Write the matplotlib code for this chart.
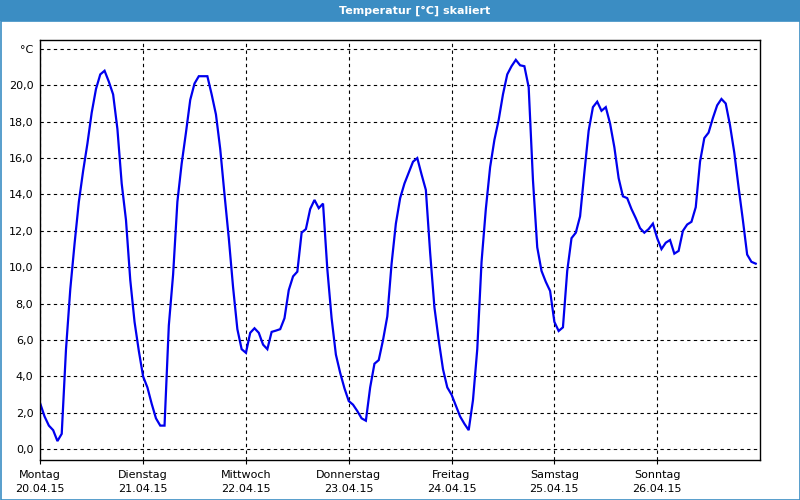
# Temperatur [°C] skaliert - week chart
import matplotlib
matplotlib.use('Agg')
import matplotlib.pyplot as plt
import matplotlib.patches as patches
import numpy as np

# hourly readings, Montag 00:00 .. Sonntag 23:00
temps = [
    2.5, 1.8, 1.3, 1.05, 0.45, 0.85, 5.5, 8.8, 11.3, 13.6, 15.3, 16.8,
    18.5, 19.8, 20.6, 20.8, 20.2, 19.5, 17.6, 14.6, 12.6, 9.3, 7.0, 5.4,
    4.0, 3.4, 2.5, 1.7, 1.3, 1.3, 6.8, 9.6, 13.6, 15.7, 17.4, 19.2,
    20.1, 20.5, 20.5, 20.5, 19.5, 18.4, 16.5, 14.0, 11.6, 8.9, 6.6, 5.5,
    5.3, 6.4, 6.65, 6.4, 5.75, 5.5, 6.45, 6.52, 6.6, 7.2, 8.75, 9.5,
    9.76, 11.9, 12.1, 13.2, 13.7, 13.25, 13.5, 9.9, 7.2, 5.2, 4.2, 3.35,
    2.65, 2.45, 2.1, 1.7, 1.57, 3.4, 4.7, 4.9, 6.0, 7.3, 10.2, 12.4,
    13.8, 14.6, 15.2, 15.8, 16.0, 15.1, 14.25, 10.8, 7.8, 6.0, 4.4, 3.4,
    3.0, 2.4, 1.8, 1.4, 1.05, 2.7, 5.5, 10.3, 13.2, 15.5, 17.0, 18.1,
    19.5, 20.6, 21.05, 21.4, 21.1, 21.05, 19.9, 14.8, 11.1, 9.8, 9.2, 8.7,
    7.0, 6.5, 6.7, 9.8, 11.6, 11.9, 12.8, 15.2, 17.5, 18.8, 19.1, 18.6,
    18.8, 17.9, 16.6, 14.9, 13.9, 13.8, 13.2, 12.7, 12.15, 11.9, 12.1, 12.4,
    11.6, 11.0, 11.35, 11.5, 10.75, 10.9, 12.0, 12.35, 12.5, 13.3, 15.8, 17.1,
    17.4, 18.2, 18.9, 19.25, 19.0, 17.8, 16.3, 14.4, 12.6, 10.7, 10.3, 10.2,
]
days = ['Montag', 'Dienstag', 'Mittwoch', 'Donnerstag', 'Freitag', 'Samstag', 'Sonntag']
dates = ['20.04.15', '21.04.15', '22.04.15', '23.04.15', '24.04.15', '25.04.15', '26.04.15']
y_ticks = [0, 2, 4, 6, 8, 10, 12, 14, 16, 18, 20, 22]
y_labels = ['%.1f' % v for v in y_ticks[:-1]]
y_labels = [s.replace('.', ',') for s in y_labels] + ['°C']

bar_col = '#3b8dc3'

fig = plt.figure(figsize=(8, 5), dpi=100, facecolor='white')
ax = fig.add_axes([40.3 / 800, 40 / 500, (760 - 40.3) / 800, 420 / 500])

x = np.arange(len(temps)) / 24.0
ax.plot(x, temps, color='#0000ee', lw=1.6, solid_joinstyle='miter')

ax.set_xlim(0, 7)
ax.set_ylim(-0.59, 22.49)

ax.set_xticks(range(7))
ax.set_xticklabels([d + '\n' + t for d, t in zip(days, dates)], fontsize=8,
                   linespacing=1.55)
ax.set_yticks(y_ticks)
ax.set_yticklabels(y_labels, fontsize=8)
ax.tick_params(axis='y', length=0, pad=5)
ax.tick_params(axis='x', length=3, width=0.8, direction='out', pad=4)

ax.grid(True, color='black', linestyle=(0, (3, 3)), linewidth=0.8)
ax.set_axisbelow(True)
for s in ax.spines.values():
    s.set_linewidth(1.0)
    s.set_color('black')

# window title bar and frame
fig.patches.append(patches.Rectangle((0, 1 - 21 / 500), 1, 21 / 500, transform=fig.transFigure,
                                     facecolor=bar_col, edgecolor='none', zorder=0))
fig.patches.append(patches.Rectangle((0.5 / 800, 0.5 / 500), 799 / 800, 1 - 21 / 500, transform=fig.transFigure,
                                     facecolor='none', edgecolor=bar_col, lw=1.2, zorder=0))
fig.text(415 / 800, 1 - 10.5 / 500, 'Temperatur [°C] skaliert', ha='center', va='center',
         color='white', fontsize=8, fontweight='bold')

fig.savefig('out.png', dpi=100)
